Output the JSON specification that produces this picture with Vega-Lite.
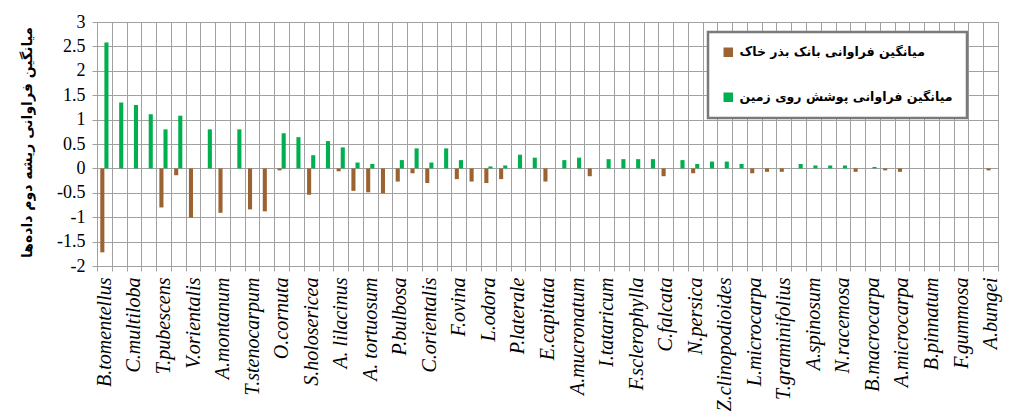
{
  "$schema": "https://vega.github.io/schema/vega-lite/v6.json",
  "width": 901,
  "height": 244,
  "autosize": "none",
  "padding": {"left": 97, "top": 22, "right": 18, "bottom": 151},
  "background": "white",
  "data": {
    "values": [
      {"sp": "B.tomentellus", "bank": -1.72, "cover": 2.58},
      {"sp": "x01", "bank": 0, "cover": 1.35},
      {"sp": "C.multiloba", "bank": 0, "cover": 1.30},
      {"sp": "x03", "bank": 0, "cover": 1.11},
      {"sp": "T.pubescens", "bank": -0.80, "cover": 0.80},
      {"sp": "x05", "bank": -0.14, "cover": 1.08},
      {"sp": "V.orientalis", "bank": -1.01, "cover": 0},
      {"sp": "x07", "bank": 0, "cover": 0.80},
      {"sp": "A.montanum", "bank": -0.91, "cover": 0},
      {"sp": "x09", "bank": 0, "cover": 0.80},
      {"sp": "T.stenocarpum", "bank": -0.84, "cover": 0},
      {"sp": "x11", "bank": -0.88, "cover": 0},
      {"sp": "O.cornuta", "bank": -0.04, "cover": 0.72},
      {"sp": "x13", "bank": 0, "cover": 0.64},
      {"sp": "S.holosericea", "bank": -0.54, "cover": 0.27},
      {"sp": "x15", "bank": 0, "cover": 0.56},
      {"sp": "A. lilacinus", "bank": -0.06, "cover": 0.43},
      {"sp": "x17", "bank": -0.46, "cover": 0.12},
      {"sp": "A. tortuosum", "bank": -0.49, "cover": 0.09},
      {"sp": "x19", "bank": -0.51, "cover": 0},
      {"sp": "P.bulbosa", "bank": -0.27, "cover": 0.17},
      {"sp": "x21", "bank": -0.10, "cover": 0.41},
      {"sp": "C.orientalis", "bank": -0.30, "cover": 0.12},
      {"sp": "x23", "bank": 0, "cover": 0.41},
      {"sp": "F.ovina", "bank": -0.22, "cover": 0.17},
      {"sp": "x25", "bank": -0.27, "cover": 0},
      {"sp": "L.odora", "bank": -0.30, "cover": 0.04},
      {"sp": "x27", "bank": -0.22, "cover": 0.06},
      {"sp": "P.laterale", "bank": 0, "cover": 0.28},
      {"sp": "x29", "bank": 0, "cover": 0.22},
      {"sp": "E.capitata", "bank": -0.27, "cover": 0},
      {"sp": "x31", "bank": 0, "cover": 0.17},
      {"sp": "A.mucronatum", "bank": 0, "cover": 0.22},
      {"sp": "x33", "bank": -0.16, "cover": 0},
      {"sp": "I.tataricum", "bank": 0, "cover": 0.19},
      {"sp": "x35", "bank": 0, "cover": 0.19},
      {"sp": "F.sclerophylla", "bank": 0, "cover": 0.19},
      {"sp": "x37", "bank": 0, "cover": 0.19},
      {"sp": "C.falcata", "bank": -0.16, "cover": 0},
      {"sp": "x39", "bank": 0, "cover": 0.17},
      {"sp": "N.persica", "bank": -0.10, "cover": 0.09},
      {"sp": "x41", "bank": 0, "cover": 0.14},
      {"sp": "Z.clinopodioides", "bank": 0, "cover": 0.14},
      {"sp": "x43", "bank": 0, "cover": 0.09},
      {"sp": "L.microcarpa", "bank": -0.10, "cover": 0},
      {"sp": "x45", "bank": -0.07, "cover": 0},
      {"sp": "T.graminifolius", "bank": -0.07, "cover": 0},
      {"sp": "x47", "bank": 0, "cover": 0.09},
      {"sp": "A.spinosum", "bank": 0, "cover": 0.06},
      {"sp": "x49", "bank": 0, "cover": 0.06},
      {"sp": "N.racemosa", "bank": 0, "cover": 0.06},
      {"sp": "x51", "bank": -0.07, "cover": 0},
      {"sp": "B.macrocarpa", "bank": 0, "cover": 0.03},
      {"sp": "x53", "bank": -0.04, "cover": 0},
      {"sp": "A.microcarpa", "bank": -0.07, "cover": 0},
      {"sp": "x55", "bank": 0, "cover": 0},
      {"sp": "B.pinnatum", "bank": 0, "cover": 0},
      {"sp": "x57", "bank": 0, "cover": 0},
      {"sp": "F.gummosa", "bank": 0, "cover": 0},
      {"sp": "x59", "bank": 0, "cover": 0},
      {"sp": "A.bungei", "bank": -0.04, "cover": 0}
    ]
  },
  "transform": [{"fold": ["bank", "cover"], "as": ["series", "value"]}],
  "mark": {"type": "bar"},
  "encoding": {
    "x": {
      "field": "sp",
      "type": "nominal",
      "sort": null,
      "scale": {"paddingInner": 0, "paddingOuter": 0},
      "axis": {
        "title": null,
        "tickBand": "extent",
        "grid": true,
        "gridColor": "#a0a0a0",
        "domainColor": "#a0a0a0",
        "tickColor": "#a0a0a0",
        "tickSize": 5,
        "labelAngle": -90,
        "labelAlign": "right",
        "labelBaseline": "middle",
        "labelFont": "Liberation Serif",
        "labelFontStyle": "italic",
        "labelFontSize": 20,
        "labelColor": "black",
        "labelPadding": 6,
        "labelOverlap": false,
        "labelLimit": 0,
        "labelExpr": "isString(datum.value) && indexof(datum.value, '.') >= 0 ? datum.value : ''"
      }
    },
    "xOffset": {
      "field": "series",
      "type": "nominal",
      "scale": {"domain": ["bank", "cover"], "paddingInner": 0, "paddingOuter": 0.8}
    },
    "y": {
      "field": "value",
      "type": "quantitative",
      "scale": {"domain": [-2, 3], "nice": false, "zero": false},
      "axis": {
        "values": [-2, -1.5, -1, -0.5, 0, 0.5, 1, 1.5, 2, 2.5, 3],
        "labelExpr": "toString(datum.value)",
        "grid": true,
        "gridColor": "#a0a0a0",
        "domainColor": "#a0a0a0",
        "tickColor": "#a0a0a0",
        "tickSize": 5,
        "labelFont": "Liberation Serif",
        "labelFontSize": 18,
        "labelColor": "black",
        "labelPadding": 7,
        "title": "میانگین فراوانی ریشه دوم داده‌ها",
        "titleFont": "DejaVu Sans",
        "titleFontWeight": "bold",
        "titleFontSize": 14,
        "titleColor": "black",
        "titleAngle": -90,
        "titleX": -70,
        "titleY": 120,
        "titleAlign": "center",
        "titleBaseline": "middle"
      }
    },
    "color": {
      "field": "series",
      "type": "nominal",
      "scale": {"domain": ["bank", "cover"], "range": ["#9C6332", "#00B050"]},
      "legend": {
        "title": null,
        "orient": "none",
        "legendX": 611,
        "legendY": 10,
        "direction": "vertical",
        "fillColor": "white",
        "strokeColor": "#7a7a7a",
        "padding": 14,
        "symbolType": "square",
        "symbolSize": 90,
        "symbolStrokeWidth": 0,
        "symbolOffset": 0,
        "labelOffset": 5,
        "labelFont": "DejaVu Sans",
        "labelFontWeight": "bold",
        "labelFontSize": 12.5,
        "labelColor": "black",
        "labelLimit": 400,
        "rowPadding": 32,
        "labelExpr": "datum.value == 'bank' ? 'میانگین فراوانی بانک بذر خاک' : 'میانگین فراوانی پوشش روی زمین'",
        "encode": {"legend": {"update": {"strokeWidth": {"value": 2.5}}}}
      }
    }
  },
  "config": {"view": {"stroke": "#a0a0a0"}}
}
